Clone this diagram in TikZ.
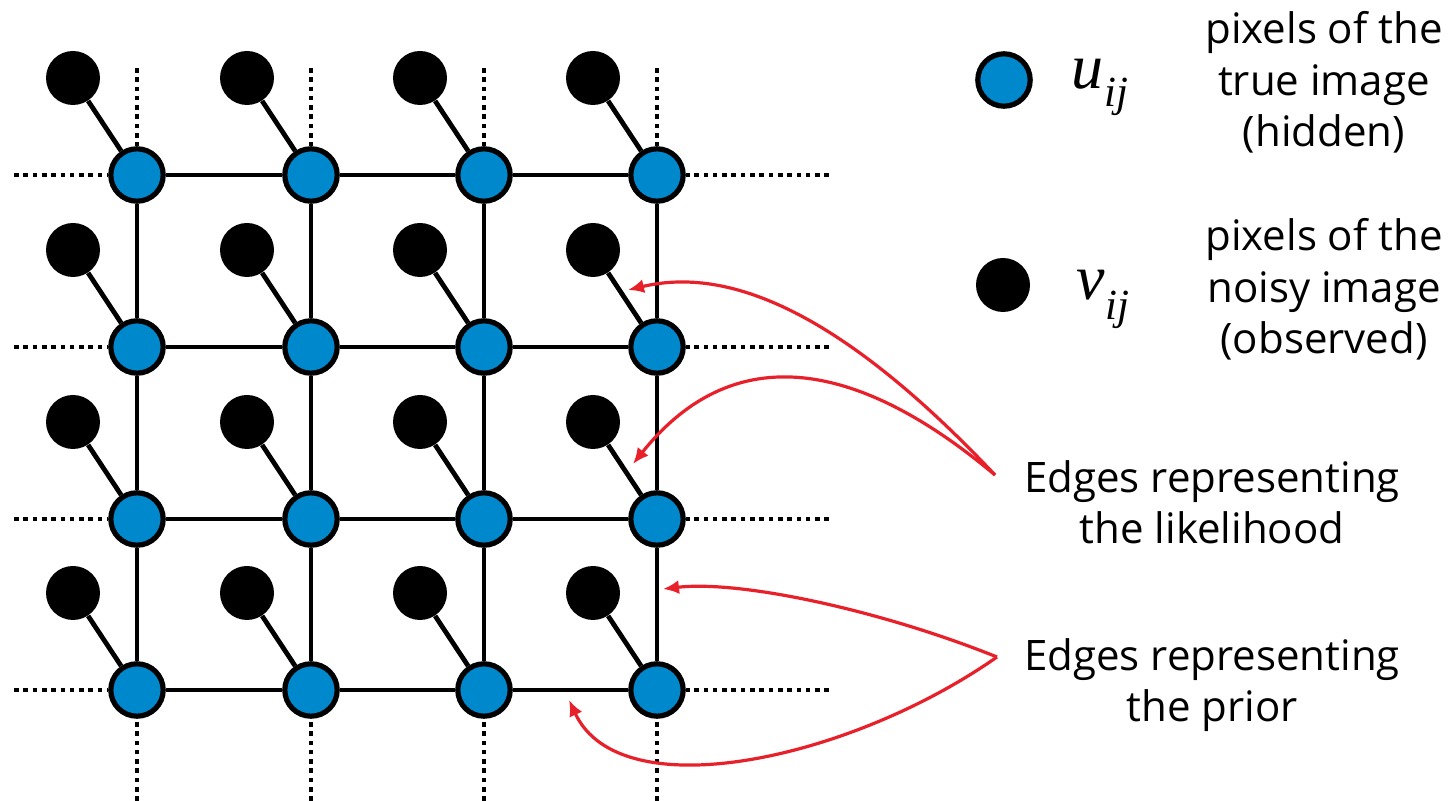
\documentclass[tikz,border=0pt]{standalone}
\usepackage{fontspec}
\setmainfont{Open Sans}
\newfontfamily\serifit{Liberation Serif}
\usetikzlibrary{arrows.meta}
\definecolor{nodeblue}{HTML}{0088CC}
\definecolor{arrowred}{HTML}{E8202A}
\begin{document}
\begin{tikzpicture}[x=0.5pt,y=-0.5pt,
  hid/.style={circle,draw=black,fill=nodeblue,line width=2.6pt,minimum size=26.2pt,inner sep=0pt},
  obs/.style={circle,fill=black,minimum size=27pt,inner sep=0pt},
  edge/.style={line width=2.4pt},
  dots/.style={line width=2.4pt,dash pattern=on 2.3pt off 2.35pt},
  redarrow/.style={draw=arrowred,line width=1.6pt,-{Latex[length=8pt,width=7pt]}},
  lbl/.style={font=\fontsize{21}{25.75}\selectfont,align=center,anchor=north,inner sep=0pt},
  mlbl/.style={anchor=base west,inner sep=0pt,font=\fontsize{32}{32}\serifit\itshape}]
\useasboundingbox (0,0) rectangle (1452,801);

% grid nodes
\foreach \r/\y in {1/175,2/347,3/519,4/690}{
  \foreach \c/\x in {1/137,2/311,3/484,4/657}{
    \node[hid] (u\r\c) at (\x,\y) {};
    \node[obs] (v\r\c) at (\x-64,\y-97) {};
  }
}

% likelihood edges
\foreach \r in {1,...,4}{
  \foreach \c in {1,...,4}{
    \draw[edge] (v\r\c) -- (u\r\c);
  }
}
% prior edges
\foreach \r in {1,...,4}{
  \foreach \c/\d in {1/2,2/3,3/4}{
    \draw[edge] (u\r\c) -- (u\r\d);
    \draw[edge] (u\c\r) -- (u\d\r);
  }
}
% dotted continuations
\foreach \r/\y in {1/175,2/347,3/519,4/690}{
  \coordinate (left\r) at (14,\y);
  \coordinate (right\r) at (829,\y);
  \draw[dots] (left\r) -- (u\r1);
  \draw[dots] (right\r) -- (u\r4);
}
\foreach \c/\x in {1/137,2/311,3/484,4/657}{
  \coordinate (top\c) at (\x,68);
  \coordinate (bot\c) at (\x,801);
  \draw[dots] (top\c) -- (u1\c);
  \draw[dots] (bot\c) -- (u4\c);
}

% legend
\node[hid] (lu) at (1004,80) {};
\node[obs] (lv) at (1003,285) {};
\node[mlbl] (lus) at (1071,89) {u\kern0.5pt\raisebox{-9pt}{\fontsize{21.5}{21.5}\selectfont ij}};
\node[mlbl] (lvs) at (1076,300) {v\kern0.5pt\raisebox{-10pt}{\fontsize{21.5}{21.5}\selectfont ij}};
\node[lbl] (ltext) at (1324,11) {pixels of the\\true image\\(hidden)};
\node[lbl] (vtext) at (1324,218) {pixels of the\\noisy image\\(observed)};

% annotations
\node[lbl] (liketext) at (1212,460) {Edges representing\\the likelihood};
\node[lbl] (priortext) at (1212,638) {Edges representing\\the prior};

\coordinate (likeS) at (995,475);
\coordinate (lt1) at (628,290);
\coordinate (lt2) at (633,464);
\coordinate (priorS) at (997,657);
\coordinate (pt1) at (663,589);
\coordinate (pt2) at (569,700);

\draw[redarrow] (likeS) .. controls (830,300) and (720,268) .. (lt1);
\draw[redarrow] (likeS) .. controls (870,370) and (740,330) .. (lt2);
\draw[redarrow] (priorS) .. controls (880,610) and (740,580) .. (pt1);
\draw[redarrow] (priorS) .. controls (850,760) and (620,810) .. (pt2);
\end{tikzpicture}
\end{document}
